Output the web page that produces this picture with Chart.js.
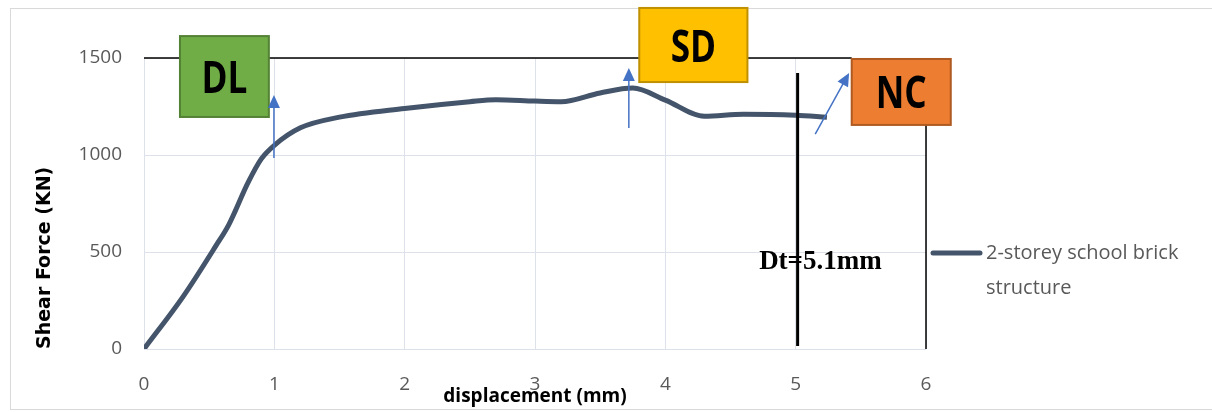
<!DOCTYPE html>
<html>
<head>
<meta charset="utf-8">
<script src="https://cdn.jsdelivr.net/npm/chart.js@4/dist/chart.umd.min.js"></script>
<style>
  html, body { margin: 0; padding: 0; background: #fff; }
  #wrap { width: 1212px; height: 412px; }
</style>
</head>
<body>
<div id="wrap"><canvas id="myChart" width="1212" height="412"></canvas></div>
<script>
'use strict'

// displacement (mm) vs shear force (KN)
const displacement = [0, 0.3, 0.55, 0.65, 0.8, 0.9, 1.0, 1.2, 1.5, 2.0, 2.5, 2.7, 3.0, 3.2, 3.5, 3.75, 4.0, 4.3, 4.6, 5.0, 5.24];
const shearForce   = [0, 270, 530, 640, 860, 980, 1050, 1140, 1195, 1240, 1275, 1285, 1278, 1275, 1320, 1345, 1283, 1200, 1210, 1205, 1195];
const seriesName = ['2-storey school brick', 'structure'];
const xTicks = [0, 1, 2, 3, 4, 5, 6];
const yTicks = [0, 500, 1000, 1500];
const dtValue = 5.1;

const points = displacement.map((d, i) => ({x: d, y: shearForce[i]}));

const tickColor = '#595959';
const gridColor = '#dde2ea';
const lineColor = '#44546a';

// boxes / arrows / reference lines drawn on top of the chart
const overlay = {
    id: 'overlay',
    afterDraw(chart) {
        const ctx = chart.ctx;
        const xs = chart.scales.x, ys = chart.scales.y;
        const px = v => xs.getPixelForValue(v);
        const py = v => ys.getPixelForValue(v);

        ctx.save();
        // outer frame
        ctx.strokeStyle = '#d9d9d9';
        ctx.lineWidth = 1;
        ctx.strokeRect(10.5, 8.5, 1210, 401);

        // black top and right lines
        ctx.strokeStyle = '#000';
        ctx.lineWidth = 1.5;
        ctx.beginPath();
        ctx.moveTo(px(0), py(1500));
        ctx.lineTo(px(5.43), py(1500));
        ctx.moveTo(px(6), py(1155));
        ctx.lineTo(px(6), py(0));
        ctx.stroke();

        // Dt line
        ctx.lineWidth = 3;
        ctx.beginPath();
        ctx.moveTo(px(5.015), py(1423));
        ctx.lineTo(px(5.015), py(15));
        ctx.stroke();

        ctx.fillStyle = '#000';
        ctx.font = 'bold 27px "Liberation Serif", "DejaVu Serif", serif';
        ctx.textAlign = 'center';
        ctx.textBaseline = 'middle';
        ctx.fillText('Dt=' + dtValue + 'mm', px(5.19), py(450));

        function box(x0, x1, y0, y1, fill, border, label) {
            const l = px(x0), r = px(x1), t = py(y0), b = py(y1);
            ctx.fillStyle = fill;
            ctx.fillRect(l, t, r - l, b - t);
            ctx.strokeStyle = border;
            ctx.lineWidth = 2;
            ctx.strokeRect(l, t, r - l, b - t);
            ctx.save();
            ctx.translate((l + r) / 2, (t + b) / 2 + 4);
            ctx.scale(0.8, 1);
            ctx.fillStyle = '#000';
            ctx.font = 'bold 44px "Open Sans", sans-serif';
            ctx.textAlign = 'center';
            ctx.textBaseline = 'middle';
            ctx.fillText(label, 0, 0);
            ctx.restore();
        }
        box(0.276, 0.958, 1613, 1196, '#70ad47', '#548235', 'DL');
        box(3.80, 4.63, 1758, 1376, '#ffc000', '#bf9000', 'SD');
        box(5.43, 6.19, 1495, 1155, '#ed7d31', '#ae5a21', 'NC');

        function arrow(x0, y0, x1, y1) {
            const ax = px(x0), ay = py(y0), bx = px(x1), by = py(y1);
            const ang = Math.atan2(by - ay, bx - ax);
            ctx.strokeStyle = '#4472c4';
            ctx.fillStyle = '#4472c4';
            ctx.lineWidth = 1.5;
            ctx.beginPath();
            ctx.moveTo(ax, ay);
            ctx.lineTo(bx - 8 * Math.cos(ang), by - 8 * Math.sin(ang));
            ctx.stroke();
            ctx.beginPath();
            ctx.moveTo(bx, by);
            ctx.lineTo(bx - 13 * Math.cos(ang) + 6 * Math.sin(ang), by - 13 * Math.sin(ang) - 6 * Math.cos(ang));
            ctx.lineTo(bx - 13 * Math.cos(ang) - 6 * Math.sin(ang), by - 13 * Math.sin(ang) + 6 * Math.cos(ang));
            ctx.closePath();
            ctx.fill();
        }
        arrow(0.997, 985, 0.997, 1309);
        arrow(3.72, 1139, 3.72, 1448);
        arrow(5.15, 1108, 5.41, 1423);

        // legend on the right
        const ds = chart.data.datasets[0];
        const ly = py(500) + 1;
        ctx.strokeStyle = ds.borderColor;
        ctx.lineWidth = 5;
        ctx.lineCap = 'round';
        ctx.beginPath();
        ctx.moveTo(933, ly);
        ctx.lineTo(980, ly);
        ctx.stroke();
        ctx.fillStyle = tickColor;
        ctx.font = '20px "Open Sans", sans-serif';
        ctx.textAlign = 'left';
        ctx.textBaseline = 'middle';
        ds.label.forEach((t, i) => ctx.fillText(t, 986, ly + i * 35));
        ctx.restore();
    }
};

const config = {
    type: 'line',
    data: {
        datasets: [{
            label: seriesName,
            data: points,
            borderColor: lineColor,
            borderWidth: 5,
            pointRadius: 0,
            tension: 0.4,
            cubicInterpolationMode: 'monotone',
            fill: false
        }]
    },
    options: {
        responsive: false,
        animation: false,
        layout: { padding: { left: 12, right: 286, top: 58, bottom: 0 } },
        plugins: { legend: { display: false }, tooltip: { enabled: false } },
        scales: {
            x: {
                type: 'linear',
                min: 0, max: 6,
                afterBuildTicks: s => { s.ticks = xTicks.map(v => ({value: v})); },
                afterFit: s => { s.height = 63; },
                grid: { color: gridColor, drawTicks: false },
                border: { display: false },
                ticks: { color: tickColor, padding: 24, font: { family: 'Open Sans', size: 19 }, callback: v => String(v) },
                title: {
                    display: true,
                    text: 'displacement (mm)',
                    color: '#000',
                    font: { family: 'Open Sans', size: 19, weight: 'bold' },
                    padding: { top: 0, bottom: 4 }
                }
            },
            y: {
                min: 0, max: 1500,
                afterBuildTicks: s => { s.ticks = yTicks.map(v => ({value: v})); },
                afterFit: s => { s.width = 132; },
                grid: { color: gridColor, drawTicks: false },
                border: { display: false },
                ticks: { color: tickColor, padding: 22, font: { family: 'Open Sans', size: 19 }, callback: v => String(v) },
                title: {
                    display: true,
                    text: 'Shear Force (KN)',
                    color: '#000',
                    align: 'start',
                    font: { family: 'DejaVu Sans', size: 19, weight: 'bold' },
                    padding: { top: 22, bottom: 0 }
                }
            }
        }
    },
    plugins: [overlay]
};

const myChart = new Chart(document.getElementById('myChart'), config);
</script>
</body>
</html>
